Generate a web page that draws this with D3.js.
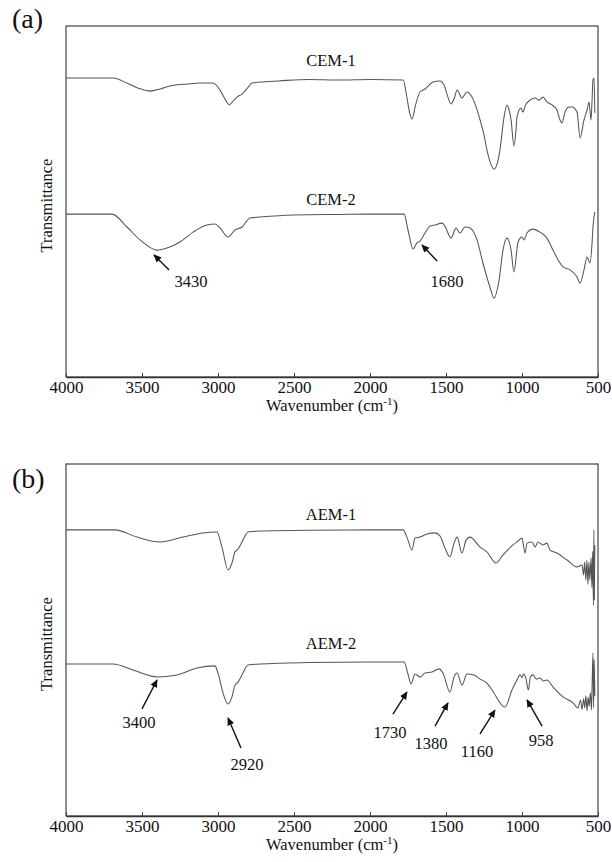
<!DOCTYPE html>
<html><head><meta charset="utf-8">
<script src="https://cdn.jsdelivr.net/npm/d3@7/dist/d3.min.js"></script>
<style>
body{margin:0;background:#fff}
svg{display:block}
text{font-family:"Liberation Serif","Times New Roman",serif;fill:#111}
</style>
</head><body>
<svg id="chart" width="612" height="862"></svg>
<script>
// ---------- data ----------
const xTicks = [4000, 3500, 3000, 2500, 2000, 1500, 1000, 500];
const xDomain = [4000, 500];
const yDomain = [0, 117];  // arbitrary transmittance units (curves offset)

const cem1 = [[4000,99.7],[3690,99.7],[3600,98.0],[3520,96.2],[3447,95.3],[3380,96.0],[3316,97.0],[3200,97.7],[3118,98.0],[3033,98.0],[2987,95.7],[2950,92.3],[2927,90.7],[2900,92.0],[2875,93.3],[2842,94.3],[2800,96.7],[2776,98.0],[2724,98.3],[2600,98.7],[2400,99.2],[2200,99.0],[2000,99.2],[1782,99.0],[1760,94.0],[1740,88.3],[1724,86.0],[1700,90.7],[1671,95.0],[1638,96.0],[1586,98.3],[1540,98.7],[1513,97.3],[1490,93.7],[1467,91.0],[1445,93.0],[1427,95.7],[1395,93.0],[1362,95.0],[1329,93.3],[1300,89.7],[1276,85.7],[1250,80.7],[1231,75.7],[1210,71.7],[1184,69.3],[1160,71.7],[1145,75.7],[1118,86.7],[1099,90.7],[1085,89.0],[1072,85.7],[1053,77.0],[1040,82.0],[1033,86.7],[1007,89.7],[993,88.3],[980,90.3],[947,92.3],[914,93.0],[888,92.3],[862,93.3],[836,91.7],[803,90.7],[770,89.0],[750,85.7],[737,84.7],[717,88.3],[690,90.0],[671,90.0],[638,88.3],[618,79.7],[592,85.7],[572,89.0],[559,91.7],[546,85.7],[539,92.3],[533,99.0],[526,99.7],[521,88.0]];

const cem2 = [[4000,54.3],[3697,54.3],[3599,50.0],[3513,45.7],[3401,42.3],[3336,43.0],[3250,45.0],[3164,48.3],[3073,50.7],[3020,51.0],[2987,49.7],[2934,46.7],[2888,49.0],[2842,50.0],[2789,53.0],[2724,53.3],[2500,54.0],[2200,54.2],[2000,54.3],[1776,54.3],[1750,49.0],[1717,42.7],[1691,44.7],[1671,45.3],[1638,48.0],[1605,50.3],[1572,50.7],[1526,51.3],[1507,50.3],[1467,46.3],[1434,49.7],[1408,48.0],[1375,50.0],[1342,49.7],[1296,45.7],[1257,38.0],[1211,30.0],[1184,26.3],[1151,32.3],[1125,42.3],[1099,46.3],[1072,42.3],[1053,35.0],[1026,45.0],[1000,46.7],[987,45.7],[967,48.0],[928,49.3],[882,48.3],[836,46.3],[796,42.3],[750,38.0],[730,36.7],[684,35.7],[638,33.3],[618,31.3],[592,35.7],[572,40.0],[553,38.0],[539,44.7],[533,50.0],[521,55.0]];

const aem1 = [[4000,95.1],[3678,95.1],[3533,92.7],[3382,91.1],[3230,92.7],[3099,94.1],[3007,94.4],[2974,89.4],[2934,81.8],[2908,84.1],[2888,87.8],[2868,88.7],[2836,91.7],[2803,94.4],[2724,94.7],[2400,95.0],[2000,95.1],[1782,95.1],[1750,91.7],[1724,88.4],[1704,92.4],[1671,92.7],[1625,93.7],[1572,94.1],[1540,93.1],[1507,89.1],[1474,86.1],[1447,90.7],[1427,92.7],[1395,87.4],[1368,91.7],[1342,92.7],[1276,89.4],[1231,87.8],[1171,84.1],[1125,86.8],[1059,90.1],[1026,91.4],[1000,92.4],[993,90.7],[980,87.4],[967,90.7],[934,91.1],[914,89.4],[895,91.1],[862,90.1],[836,90.7],[816,88.4],[770,87.4],[704,85.1],[638,82.8],[605,83.4],[595,80.1],[588,84.4],[580,78.4],[573,85.1],[566,77.0],[560,84.4],[553,78.4],[546,85.8],[540,76.0],[535,88.0],[530,70.0],[527,95.1],[524,71.8],[521,90.0]];

const aem2 = [[4000,50.5],[3690,50.5],[3559,48.5],[3401,46.2],[3270,46.9],[3138,49.2],[3020,49.9],[3000,47.5],[2967,40.9],[2934,37.2],[2908,39.6],[2888,43.5],[2868,44.5],[2836,47.5],[2803,50.2],[2724,50.5],[2400,51.0],[2000,51.2],[1776,51.2],[1750,47.2],[1730,43.9],[1704,47.2],[1671,46.2],[1638,47.5],[1592,47.9],[1546,48.9],[1520,47.5],[1474,41.2],[1447,46.2],[1427,47.5],[1395,43.5],[1362,47.2],[1316,46.9],[1276,45.5],[1231,44.2],[1197,41.9],[1112,36.2],[1066,41.9],[1033,45.2],[1013,46.9],[1000,45.9],[990,47.2],[975,45.9],[958,41.9],[945,46.2],[928,46.9],[905,45.5],[882,45.9],[860,44.9],[836,45.2],[796,42.9],[730,39.6],[664,37.6],[632,35.9],[615,38.5],[605,35.5],[595,39.0],[588,36.0],[580,40.0],[572,35.0],[565,39.5],[558,36.5],[550,41.0],[543,35.2],[538,45.0],[533,54.2],[529,36.0],[525,52.0],[521,40.0]];

const seriesNamesA = ["CEM-1", "CEM-2"];
const seriesNamesB = ["AEM-1", "AEM-2"];
// label anchor [wavenumber, value]
const seriesLabelPosA = [[2257,103.7],[2257,57.3]];
const seriesLabelPosB = [[2257,98.4],[2257,55.5]];

const annotationsA = [
  {text:"3430", label:[3178,30.0], tail:[3322,35.7], head:[3421,40.7]},
  {text:"1680", label:[1493,30.0], tail:[1559,38.7], head:[1658,44.0]}
];
const annotationsB = [
  {text:"3400", label:[3520,29.2], tail:[3500,35.6], head:[3401,45.2]},
  {text:"2920", label:[2809,15.3], tail:[2849,22.6], head:[2934,32.6]},
  {text:"1730", label:[1868,25.9], tail:[1849,33.9], head:[1757,41.2]},
  {text:"1380", label:[1599,22.3], tail:[1572,29.9], head:[1487,37.6]},
  {text:"1160", label:[1296,19.6], tail:[1276,27.3], head:[1178,35.2]},
  {text:"958",  label:[875,23.3],  tail:[868,29.9],  head:[967,38.6]}
];

// ---------- drawing ----------
const FONT = '"Liberation Serif","Times New Roman",serif';
const svg = d3.select("#chart");
const defs = svg.append("defs");
defs.append("marker")
  .attr("id","arrow").attr("viewBox","0 0 10 10")
  .attr("refX",9).attr("refY",5)
  .attr("markerWidth",8).attr("markerHeight",8)
  .attr("markerUnits","userSpaceOnUse")
  .attr("orient","auto")
  .append("path").attr("d","M0,0.5 L10,5 L0,9.5 Z").attr("fill","#111");

const left = 66, right = 598;

function panel(cfg){
  const x = d3.scaleLinear().domain(xDomain).range([left, right]);
  const y = d3.scaleLinear().domain(yDomain).range([cfg.bottom, cfg.top]);
  const g = svg.append("g").attr("font-family", FONT);

  // frame
  g.append("rect").attr("x",left).attr("y",cfg.top)
    .attr("width",right-left).attr("height",cfg.bottom-cfg.top)
    .attr("fill","none").attr("stroke","#444").attr("stroke-width",1.2);

  // x axis
  const ax = g.append("g").attr("transform",`translate(0,${cfg.bottom})`)
    .call(d3.axisBottom(x).tickValues(xTicks).tickSizeInner(-4).tickSizeOuter(0).tickPadding(4).tickFormat(d3.format("d")));
  ax.attr("font-family", FONT).attr("font-size", 17);
  ax.select(".domain").attr("stroke","#333").attr("stroke-width",1.3);
  ax.selectAll(".tick line").attr("stroke","#444");
  ax.selectAll(".tick text").attr("font-family", FONT).style("font-size","17px").attr("fill","#111");

  // x label
  const xl = g.append("text").attr("x",(left+right)/2).attr("y",cfg.bottom+34)
    .attr("text-anchor","middle").style("font-size","16.5px");
  xl.append("tspan").text("Wavenumber (cm");
  xl.append("tspan").text("-1").attr("dy",-6).style("font-size","11px");
  xl.append("tspan").text(")").attr("dy",6);

  // y label
  g.append("text").attr("transform",`translate(52,${(cfg.top+cfg.bottom)/2+4}) rotate(-90)`)
    .attr("text-anchor","middle").style("font-size","16.5px").text("Transmittance");

  // panel letter
  g.append("text").attr("x",12).attr("y",cfg.letterY).style("font-size","28px").text(cfg.letter);

  // spectra
  const line = d3.line().x(d=>x(d[0])).y(d=>y(d[1])).curve(d3.curveMonotoneX);
  cfg.series.forEach((s,i)=>{
    g.append("path").datum(s).attr("d",line).attr("fill","none")
      .attr("stroke","#555").attr("stroke-width",1.05).attr("stroke-linejoin","round");
    g.append("text").attr("x",x(cfg.labelPos[i][0])).attr("y",y(cfg.labelPos[i][1]))
      .attr("text-anchor","middle").style("font-size","16.5px").text(cfg.names[i]);
  });

  // annotations
  cfg.annotations.forEach(a=>{
    g.append("line").attr("x1",x(a.tail[0])).attr("y1",y(a.tail[1]))
      .attr("x2",x(a.head[0])).attr("y2",y(a.head[1]))
      .attr("stroke","#111").attr("stroke-width",1.4).attr("marker-end","url(#arrow)");
    g.append("text").attr("x",x(a.label[0])).attr("y",y(a.label[1]))
      .attr("text-anchor","middle").style("font-size","16.5px").text(a.text);
  });
}

panel({top:26, bottom:377, letter:"(a)", letterY:28, series:[cem1,cem2], names:seriesNamesA, labelPos:seriesLabelPosA, annotations:annotationsA});
panel({top:464, bottom:816, letter:"(b)", letterY:488, series:[aem1,aem2], names:seriesNamesB, labelPos:seriesLabelPosB, annotations:annotationsB});
</script>
</body></html>
